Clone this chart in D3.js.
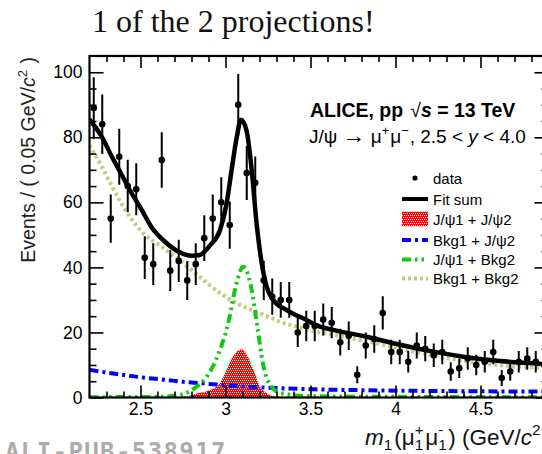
<!DOCTYPE html>
<html>
<head>
<meta charset="utf-8">
<script src="https://cdn.jsdelivr.net/npm/d3@7"></script>
<style>
  body { margin: 0; background: #fff; }
  svg { display: block; }
  text { white-space: pre; }
</style>
</head>
<body>
<svg id="chart" width="542" height="454"></svg>
<script>
// m1(mu+mu-) projection of the two-dimensional J/psi-pair fit, 0.05 GeV/c^2 bins

const binCenters = [
  2.225, 2.275, 2.325, 2.375, 2.425, 2.475, 2.525, 2.575, 2.625, 2.675,
  2.725, 2.775, 2.825, 2.875, 2.925, 2.975, 3.025, 3.075, 3.125, 3.175,
  3.225, 3.275, 3.325, 3.375, 3.425, 3.475, 3.525, 3.575, 3.625, 3.675,
  3.725, 3.775, 3.825, 3.875, 3.925, 3.975, 4.025, 4.075, 4.125, 4.175,
  4.225, 4.275, 4.325, 4.375, 4.425, 4.475, 4.525, 4.575, 4.625, 4.675,
  4.725, 4.775, 4.825, 4.875
];
const eventCounts = [
  89, 84, 55, 74, 65, 64, 43, 41, 73, 39,
  42, 36, 41, 49, 55, 60, 53, 90, 69, 66,
  36, 31, 30, 30, 20, 22, 22, 24, 23, 17,
  19, 7, 16, 18, 26, 14, 14, 11, 16, 15,
  13, 14, 8, 9, 12, 10, 11, 14, 6, 8,
  11, 12, 11, 10
];

// Fit components sampled along m1
const fitSumMass   = [2.2, 2.272, 2.331, 2.389, 2.448, 2.507, 2.566, 2.644, 2.722, 2.801, 2.85, 2.879, 2.909, 2.968, 3.007, 3.036, 3.066, 3.091, 3.124, 3.154, 3.183, 3.213, 3.242, 3.281, 3.36, 3.477, 3.556, 3.632, 3.83, 4.026, 4.222, 4.419, 4.615, 4.811, 4.9];
const fitSumValues = [85.5, 80.2, 74.1, 68.5, 62.8, 57.7, 52.3, 47.9, 44.9, 43.6, 43.8, 45.0, 46.8, 51.5, 59.8, 70.0, 80.0, 85.4, 82.0, 70.0, 53.5, 41.3, 34.1, 30.0, 26.9, 23.8, 21.8, 20.8, 18.7, 16.2, 14.1, 12.4, 11.2, 10.5, 10.2];

const bkgBkgMass   = [2.2, 2.272, 2.331, 2.389, 2.448, 2.507, 2.634, 2.752, 2.85, 2.968, 3.085, 3.203, 3.321, 3.438, 3.556, 3.632, 3.831, 4.026, 4.222, 4.419, 4.615, 4.811, 4.9];
const bkgBkgValues = [77.5, 71.0, 65.0, 59.5, 54.8, 51.0, 46.0, 41.3, 37.0, 32.1, 28.5, 25.9, 23.3, 21.5, 20.0, 19.3, 17.3, 15.0, 12.9, 11.1, 9.9, 9.2, 8.9];

const bkgJpsiMass   = [2.2, 2.35, 2.507, 2.65, 2.8, 2.95, 3.13, 3.3, 3.53, 3.8, 4.03, 4.5, 4.9];
const bkgJpsiValues = [8.5, 7.3, 6.2, 5.4, 4.6, 4.0, 3.3, 2.9, 2.5, 2.25, 2.1, 1.9, 1.8];

const jpsiBkgMass   = [2.2, 2.6, 2.733, 2.83, 2.89, 2.96, 3.02, 3.06, 3.105, 3.15, 3.19, 3.22, 3.27, 3.33, 3.5, 4.0, 4.9];
const jpsiBkgValues = [0.1, 0.2, 0.8, 3.3, 6.4, 13.6, 23.8, 34.1, 40.2, 34.1, 20.8, 10.5, 3.3, 1.3, 0.4, 0.2, 0.1];

const jpsiJpsiMass   = [2.7, 2.78, 2.83, 2.909, 2.968, 3.007, 3.044, 3.095, 3.126, 3.164, 3.203, 3.242, 3.29, 3.35];
const jpsiJpsiValues = [0, 0.4, 1.2, 2.3, 4.4, 8.5, 12.5, 14.8, 13.0, 8.5, 3.3, 1.3, 0.3, 0];

const xMajorTicks = [2.5, 3, 3.5, 4, 4.5];
const xMinorTicks = [2.3, 2.4, 2.6, 2.7, 2.8, 2.9, 3.1, 3.2, 3.3, 3.4, 3.6, 3.7, 3.8, 3.9, 4.1, 4.2, 4.3, 4.4, 4.6, 4.7, 4.8];
const yMajorTicks = [0, 20, 40, 60, 80, 100];
const yMinorTicks = [5, 10, 15, 25, 30, 35, 45, 50, 55, 65, 70, 75, 85, 90, 95];

const legendLabels = ["data", "Fit sum", "J/\u03C81 + J/\u03C82", "Bkg1 + J/\u03C82", "J/\u03C81 + Bkg2", "Bkg1 + Bkg2"];

// ---------------------------------------------------------------------
const svg = d3.select("#chart");
const SANS = "'Liberation Sans', Arial, Helvetica, sans-serif";

const plot = { left: 89.5, right: 548.5, top: 56, bottom: 397.5 };
const x = d3.scaleLinear().domain([2.2, 4.9]).range([plot.left, plot.right]);
const y = d3.scaleLinear().domain([0, 105]).range([plot.bottom, plot.top]);

const colors = {
  jpsiJpsi: "#ff0000",
  bkgJpsi: "#0000ff",
  jpsiBkg: "#12c812",
  bkgBkg: "#c8c882",
  fit: "#000000"
};
const dashes = {
  bkgJpsi: "9,4,3,4",
  jpsiBkg: "9,4,2.5,4,2.5,4",
  bkgBkg: "3,3"
};

const defs = svg.append("defs");
defs.append("clipPath").attr("id", "plotClip")
  .append("rect")
  .attr("x", plot.left).attr("y", plot.top)
  .attr("width", plot.right - plot.left).attr("height", plot.bottom - plot.top);

// red fill speckled with white dots (clipped to the given shape)
function speckledFill(parent, clipId, shapeFn, box) {
  defs.append("clipPath").attr("id", clipId).call(shapeFn);
  const grp = parent.append("g").attr("clip-path", `url(#${clipId})`);
  grp.append("rect")
    .attr("x", box.x0).attr("y", box.y0)
    .attr("width", box.x1 - box.x0).attr("height", box.y1 - box.y0)
    .attr("fill", colors.jpsiJpsi);
  const rows = d3.range(Math.floor(box.y0), Math.ceil(box.y1), 2);
  grp.selectAll("line").data(rows).join("line")
    .attr("x1", (r, i) => Math.floor(box.x0) + (i % 2)).attr("x2", Math.ceil(box.x1))
    .attr("y1", r => r + 0.5).attr("y2", r => r + 0.5)
    .attr("stroke", "#ffffff").attr("stroke-width", 1)
    .attr("stroke-dasharray", "1,1");
  return grp;
}

// title above the frame
svg.append("text")
  .attr("x", 92).attr("y", 32)
  .style("font-family", "'Liberation Serif', 'Times New Roman', serif")
  .style("font-size", "32px")
  .attr("fill", "#111")
  .text("1 of the 2 projections!");

// ---------------------------------------------------------------------
// curves
const g = svg.append("g").attr("clip-path", "url(#plotClip)");

const zip = (xs, ys) => xs.map((m, i) => [m, ys[i]]);

const areaGen = d3.area()
  .x(d => x(d[0])).y0(y(0)).y1(d => y(d[1]))
  .curve(d3.curveMonotoneX);
const lineGen = d3.line()
  .x(d => x(d[0])).y(d => y(d[1]))
  .curve(d3.curveMonotoneX);

const jjData = zip(jpsiJpsiMass, jpsiJpsiValues);
speckledFill(g, "jjClip",
  cp => cp.append("path").attr("d", areaGen(jjData)),
  { x0: x(d3.min(jpsiJpsiMass)), x1: x(d3.max(jpsiJpsiMass)), y0: y(d3.max(jpsiJpsiValues)) - 1, y1: y(0) });

g.append("path")
  .datum(zip(bkgBkgMass, bkgBkgValues))
  .attr("d", lineGen)
  .attr("fill", "none").attr("stroke", colors.bkgBkg)
  .attr("stroke-width", 4).attr("stroke-dasharray", dashes.bkgBkg);

g.append("path")
  .datum(zip(bkgJpsiMass, bkgJpsiValues))
  .attr("d", lineGen)
  .attr("fill", "none").attr("stroke", colors.bkgJpsi)
  .attr("stroke-width", 4).attr("stroke-dasharray", dashes.bkgJpsi);

g.append("path")
  .datum(zip(jpsiBkgMass, jpsiBkgValues))
  .attr("d", lineGen)
  .attr("fill", "none").attr("stroke", colors.jpsiBkg)
  .attr("stroke-width", 4).attr("stroke-dasharray", dashes.jpsiBkg);

g.append("path")
  .datum(zip(fitSumMass, fitSumValues))
  .attr("d", lineGen)
  .attr("fill", "none").attr("stroke", colors.fit)
  .attr("stroke-width", 4.5);

// data points with Poisson errors
const pts = g.selectAll("g.pt")
  .data(binCenters.map((m, i) => ({ m, n: eventCounts[i] })))
  .join("g").attr("class", "pt");
pts.append("line")
  .attr("x1", d => x(d.m)).attr("x2", d => x(d.m))
  .attr("y1", d => y(d.n - Math.sqrt(d.n)))
  .attr("y2", d => y(d.n + Math.sqrt(d.n)))
  .attr("stroke", "#000").attr("stroke-width", 2);
pts.append("circle")
  .attr("cx", d => x(d.m)).attr("cy", d => y(d.n))
  .attr("r", 3.3).attr("fill", "#000");

// ---------------------------------------------------------------------
// frame and axes (ticks on all four sides, pointing inwards)
svg.append("rect")
  .attr("x", plot.left).attr("y", plot.top)
  .attr("width", plot.right - plot.left).attr("height", plot.bottom - plot.top)
  .attr("fill", "none").attr("stroke", "#000").attr("stroke-width", 2.2);

function styleAxis(sel, withText) {
  sel.select(".domain").remove();
  sel.selectAll(".tick line").attr("stroke", "#000").attr("stroke-width", 1.6);
  if (withText) {
    sel.selectAll(".tick text")
      .style("font-family", SANS).style("font-size", "17.5px").attr("fill", "#000");
  }
}

// bottom
svg.append("g").attr("transform", `translate(0,${plot.bottom})`)
  .call(d3.axisBottom(x).tickValues(xMajorTicks).tickSize(-12).tickPadding(5)
    .tickFormat(d => String(d)))
  .call(s => styleAxis(s, true));
svg.append("g").attr("transform", `translate(0,${plot.bottom})`)
  .call(d3.axisBottom(x).tickValues(xMinorTicks).tickSize(-6).tickFormat(""))
  .call(s => styleAxis(s, false));
// top
svg.append("g").attr("transform", `translate(0,${plot.top})`)
  .call(d3.axisTop(x).tickValues(xMajorTicks).tickSize(-12).tickFormat(""))
  .call(s => styleAxis(s, false));
svg.append("g").attr("transform", `translate(0,${plot.top})`)
  .call(d3.axisTop(x).tickValues(xMinorTicks).tickSize(-6).tickFormat(""))
  .call(s => styleAxis(s, false));
// left
svg.append("g").attr("transform", `translate(${plot.left},0)`)
  .call(d3.axisLeft(y).tickValues(yMajorTicks).tickSize(-14).tickPadding(7)
    .tickFormat(d => String(d)))
  .call(s => styleAxis(s, true));
svg.append("g").attr("transform", `translate(${plot.left},0)`)
  .call(d3.axisLeft(y).tickValues(yMinorTicks).tickSize(-7).tickFormat(""))
  .call(s => styleAxis(s, false));
// right
svg.append("g").attr("transform", `translate(${plot.right},0)`)
  .call(d3.axisRight(y).tickValues(yMajorTicks).tickSize(-14).tickFormat(""))
  .call(s => styleAxis(s, false));
svg.append("g").attr("transform", `translate(${plot.right},0)`)
  .call(d3.axisRight(y).tickValues(yMinorTicks).tickSize(-7).tickFormat(""))
  .call(s => styleAxis(s, false));

// ---------------------------------------------------------------------
// rich text helper: lays out pieces with italic, super/subscripts and stacked indices
function richText(parent, parts, opts) {
  const fs = opts.size;
  const subDy = opts.subDy !== undefined ? opts.subDy : 0.3;
  const grp = parent.append("g");
  let cx = 0;
  const styled = (sel, size, italic, bold) => sel
    .style("font-family", SANS).style("font-size", size + "px")
    .style("font-style", italic ? "italic" : "normal")
    .style("font-weight", bold ? "bold" : "normal")
    .style("white-space", "pre")
    .attr("fill", opts.fill || "#000");
  const mk = (str, size, dy, italic, bold) =>
    styled(grp.append("text").attr("x", cx).attr("y", dy), size, italic, bold).text(str);
  parts.forEach(p => {
    const bold = p.bold !== undefined ? p.bold : opts.bold;
    cx += p.gap || 0;
    if (p.stack) {
      // superscript and subscript sharing one horizontal slot
      const size = fs * 0.68;
      const t = styled(grp.append("text"), size, false, bold);
      const a = t.append("tspan").attr("x", cx).attr("y", -fs * 0.42).text(p.stack[0]);
      const b = t.append("tspan").attr("x", cx).attr("y", fs * subDy).text(p.stack[1]);
      cx += Math.max(a.node().getComputedTextLength(), b.node().getComputedTextLength()) + 1.5;
    } else if (p.sup) {
      const t = mk(p.sup, fs * 0.68, -fs * 0.42, p.italic, bold);
      cx += t.node().getComputedTextLength() + 1;
    } else if (p.sub) {
      const t = mk(p.sub, fs * 0.68, fs * subDy, p.italic, bold);
      cx += t.node().getComputedTextLength() + 1;
    } else {
      const t = mk(p.t, fs * (p.scale || 1), 0, p.italic, bold);
      cx += t.node().getComputedTextLength();
    }
  });
  const shift = opts.anchor === "end" ? -cx : opts.anchor === "middle" ? -cx / 2 : 0;
  grp.attr("transform", `translate(${opts.x + shift},${opts.y})`);
  return grp;
}

// y-axis title
const yTitle = svg.append("g").attr("transform", "translate(35,57) rotate(-90)");
richText(yTitle, [
  { t: "Events / ( 0.05 GeV/" }, { t: "c", italic: true }, { sup: "2" }, { t: " )" }
], { x: 0, y: 0, size: 19.5, anchor: "end", fill: "#222" });

// x-axis title
richText(svg, [
  { t: "m", italic: true }, { sub: "1" }, { t: "(\u03BC", gap: 1 }, { stack: ["+", "1"] },
  { t: "\u03BC" }, { stack: ["-", "1"] }, { t: ") (GeV/" }, { t: "c", italic: true },
  { sup: "2" }, { t: ")" }
], { x: 549, y: 444.5, size: 22.5, anchor: "end", fill: "#111", subDy: 0.24 });

// experiment label
richText(svg, [
  { t: "ALICE, pp" }, { t: "\u221A", bold: false, gap: 7 }, { t: "s", italic: true }, { t: " = 13 TeV" }
], { x: 310, y: 117, size: 19.5, anchor: "start", bold: true });
richText(svg, [
  { t: "J/\u03C8 " }, { t: "\u2192", scale: 1.2 }, { t: " \u03BC" }, { sup: "+" }, { t: "\u03BC" }, { sup: "\u2212" },
  { t: ", 2.5 < " }, { t: "y", italic: true }, { t: " < 4.0" }
], { x: 309, y: 143, size: 19, anchor: "start" });

// ---------------------------------------------------------------------
// legend
const leg = svg.append("g");
const lx0 = 402, lx1 = 428, ltx = 433;
const rowsY = [178, 199, 219, 240, 259.5, 278.5];

leg.append("circle").attr("cx", 415).attr("cy", rowsY[0]).attr("r", 2.6).attr("fill", "#000");
leg.append("line").attr("x1", lx0).attr("x2", lx1).attr("y1", rowsY[1]).attr("y2", rowsY[1])
  .attr("stroke", colors.fit).attr("stroke-width", 4);
speckledFill(leg, "legClip",
  cp => cp.append("rect").attr("x", lx0).attr("y", rowsY[2] - 7.5).attr("width", lx1 - lx0).attr("height", 15),
  { x0: lx0, x1: lx1, y0: rowsY[2] - 7.5, y1: rowsY[2] + 7.5 });
leg.append("line").attr("x1", lx0).attr("x2", lx1).attr("y1", rowsY[3]).attr("y2", rowsY[3])
  .attr("stroke", colors.bkgJpsi).attr("stroke-width", 4).attr("stroke-dasharray", dashes.bkgJpsi);
leg.append("line").attr("x1", lx0).attr("x2", lx1).attr("y1", rowsY[4]).attr("y2", rowsY[4])
  .attr("stroke", colors.jpsiBkg).attr("stroke-width", 4).attr("stroke-dasharray", dashes.jpsiBkg);
leg.append("line").attr("x1", lx0).attr("x2", lx1).attr("y1", rowsY[5]).attr("y2", rowsY[5])
  .attr("stroke", colors.bkgBkg).attr("stroke-width", 4).attr("stroke-dasharray", dashes.bkgBkg);

leg.selectAll("text.lab").data(legendLabels).join("text").attr("class", "lab")
  .attr("x", ltx).attr("y", (d, i) => rowsY[i] + 5.5)
  .style("font-family", SANS).style("font-size", "15px").attr("fill", "#000")
  .text(d => d);

// publication id along the bottom edge
svg.append("text")
  .attr("x", 5).attr("y", 460)
  .style("font-family", "'DejaVu Sans Mono', monospace")
  .style("font-size", "24px").style("font-weight", "bold").style("letter-spacing", "1.4px")
  .attr("fill", "#acacac")
  .text("ALI-PUB-538917");
</script>
</body>
</html>
